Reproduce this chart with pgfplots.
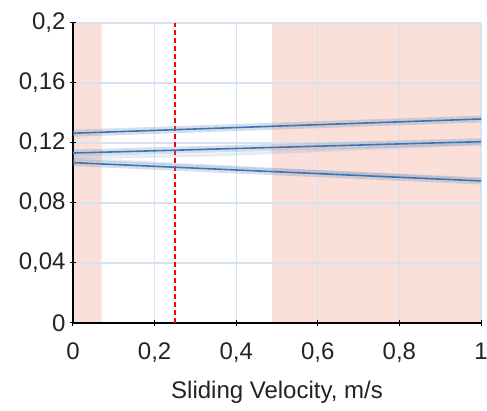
\documentclass[border=0pt]{standalone}
\usepackage{fontspec}
\setmainfont{Liberation Sans}
\usepackage{pgfplots}
\pgfplotsset{compat=1.18}
\definecolor{shade}{RGB}{250,224,216}
\definecolor{gridc}{RGB}{214,226,241}
\definecolor{lineb}{RGB}{66,116,172}
\definecolor{bandb}{RGB}{110,150,200}
\definecolor{txt}{RGB}{35,35,35}
\begin{document}
\begin{tikzpicture}
\begin{axis}[
  set layers,
  scale only axis,
  width=408pt, height=300pt,
  xmin=0, xmax=1, ymin=0, ymax=0.2,
  axis x line*=bottom, axis y line*=left,
  axis line style={black, line width=1.2pt},
  xtick={0,0.2,0.4,0.6,0.8,1},
  ytick={0,0.04,0.08,0.12,0.16,0.2},
  grid=major,
  major grid style={gridc, line width=1.1pt},
  tick style={black, line width=1pt},
  tick align=center,
  major tick length=6pt,
  /pgf/number format/.cd, use comma, fixed, precision=2, assume math mode=true,
  /pgfplots/.cd,
  tick label style={font=\fontsize{24}{26}\selectfont, text=txt},
  xticklabel style={yshift=-13pt},
  yticklabel style={xshift=-1pt},
  xlabel={Sliding Velocity, m/s},
  label style={font=\fontsize{24}{26}\selectfont, text=txt},
  xlabel style={yshift=-12pt},
  clip=true,
]
% shaded regions
\addplot[on layer=axis background, fill=shade, draw=none] coordinates {(0,0) (0.07,0) (0.07,0.2) (0,0.2)} \closedcycle;
\addplot[on layer=axis background, fill=shade, draw=none] coordinates {(0.488,0) (1,0) (1,0.2) (0.488,0.2)} \closedcycle;
% red dashed line
\addplot[red, dashed, line width=1.2pt, dash pattern=on 5pt off 3pt] coordinates {(0.25,0) (0.25,0.2)};
% series bands
\addplot[bandb, opacity=0.3, line width=7pt] coordinates {(0,0.1265) (1,0.1360)};
\addplot[bandb, opacity=0.3, line width=7pt] coordinates {(0,0.1133) (1,0.1209)};
\addplot[bandb, opacity=0.3, line width=7pt] coordinates {(0,0.1069) (1,0.0947)};
\addplot[bandb, opacity=0.18, line width=3pt] coordinates {(0,0.1095) (0.35,0.1045) (1,0.0955)};
\addplot[bandb, opacity=0.18, line width=3pt] coordinates {(0,0.1100) (0.35,0.1120) (1,0.1195)};
\addplot[lineb, line width=1.6pt] coordinates {(0,0.1265) (1,0.1360)};
\addplot[lineb, line width=1.6pt] coordinates {(0,0.1133) (1,0.1209)};
\addplot[lineb, line width=1.6pt] coordinates {(0,0.1069) (1,0.0947)};
\end{axis}
\pgfresetboundingbox
\path[use as bounding box] (-73pt,-88pt) rectangle (414pt,323pt);
\end{tikzpicture}
\end{document}
